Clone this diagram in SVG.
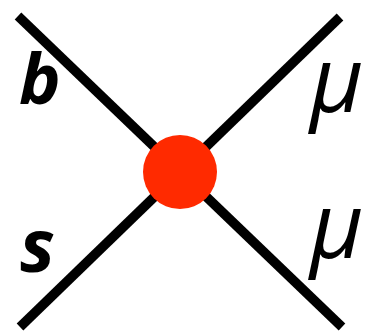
<svg xmlns="http://www.w3.org/2000/svg" width="367" height="334" viewBox="0 0 367 334">
<style>
.leg{stroke:#000;stroke-width:9.5;fill:none;stroke-linecap:butt}
.q{font-family:"Open Sans","DejaVu Sans",sans-serif;font-weight:bold;font-style:italic;fill:#000}
.mu{font-family:"Open Sans","DejaVu Sans",sans-serif;font-style:italic;fill:#000}
</style>
<rect width="367" height="334" fill="#fff"/>
<g id="connectors">
<line class="leg" x1="18" y1="16" x2="342" y2="327"/>
<line class="leg" x1="340" y1="17" x2="20" y2="327"/>
</g>
<g id="vertex"><circle cx="180" cy="172" r="37" fill="#ff2a00"/></g>
<g id="label-b"><text class="q" x="19" y="104" font-size="70">b</text></g>
<g id="label-s"><text class="q" x="20" y="272" font-size="74">s</text></g>
<g id="label-mu1"><text class="mu" x="310" y="112" font-size="92">μ</text></g>
<g id="label-mu2"><text class="mu" x="310" y="258" font-size="92">μ</text></g>
</svg>
